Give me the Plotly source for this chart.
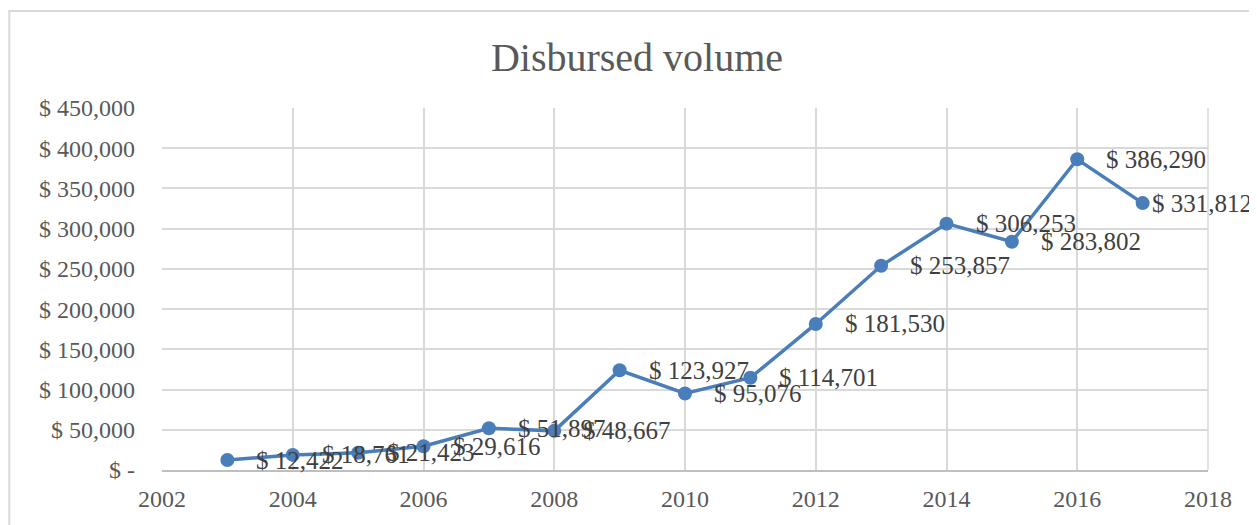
import plotly.graph_objects as go

years = [2003, 2004, 2005, 2006, 2007, 2008, 2009, 2010, 2011, 2012, 2013, 2014, 2015, 2016, 2017]
volume = [12422, 18761, 21423, 29616, 51897, 48667, 123927, 95076, 114701, 181530, 253857, 306253, 283802, 386290, 331812]
y_ticks = [0, 50000, 100000, 150000, 200000, 250000, 300000, 350000, 400000, 450000]
y_tick_labels = ["$ -", "$ 50,000", "$ 100,000", "$ 150,000", "$ 200,000", "$ 250,000",
                 "$ 300,000", "$ 350,000", "$ 400,000", "$ 450,000"]
x_ticks = [2002, 2004, 2006, 2008, 2010, 2012, 2014, 2016, 2018]

labels = [f"$ {v:,}" for v in volume]

FONT = "Liberation Serif"
TXT = "#595959"
GRID = "#d9d9d9"
BLUE = "#4a7ebb"

fig = go.Figure()
fig.add_trace(go.Scatter(
    x=years, y=volume, mode="lines+markers",
    line=dict(color=BLUE, width=3.5),
    marker=dict(color=BLUE, size=14),
    cliponaxis=False, showlegend=False, hoverinfo="x+y",
))

annotations = []
for i, (yr, v, t) in enumerate(zip(years, volume, labels)):
    last = i == len(years) - 1
    annotations.append(dict(
        x=yr, y=v, xref="x", yref="y", text=t, showarrow=False,
        xanchor="left", yanchor="middle", xshift=7 if last else 27,
        font=dict(family=FONT, size=25, color="#404040"),
    ))

fig.update_layout(
    width=1249, height=517,
    margin=dict(l=154, r=49, t=100, b=55),
    paper_bgcolor="white", plot_bgcolor="white",
    title=dict(text="Disbursed volume", x=0.5036, xanchor="center", y=0.905, yanchor="middle",
               xref="container", yref="container", font=dict(family=FONT, size=40, color=TXT)),
    font=dict(family=FONT, color=TXT),
    xaxis=dict(range=[2002, 2018], tickvals=x_ticks, showgrid=True, gridcolor=GRID, gridwidth=1.5,
               zeroline=False, showline=True, linecolor="#bfbfbf", linewidth=2, mirror=False,
               tickfont=dict(family=FONT, size=24, color=TXT), ticks="", ticklabelstandoff=6),
    yaxis=dict(range=[0, 450000], tickvals=y_ticks, ticktext=y_tick_labels, showgrid=True,
               gridcolor=GRID, gridwidth=1.5, zeroline=False, showline=False,
               tickfont=dict(family=FONT, size=24, color=TXT), ticks="", ticklabelstandoff=26),
    annotations=annotations,
    shapes=[dict(type="rect", xref="paper", yref="paper", x0=-0.146, x1=1.06, y0=-0.17, y1=1.268,
                 line=dict(color=GRID, width=2), fillcolor="rgba(0,0,0,0)", layer="below"),
            dict(type="line", xref="paper", yref="paper", x0=1, x1=1, y0=0, y1=1,
                 line=dict(color=GRID, width=1.5), layer="below")],
)

fig.write_html("out.html")
